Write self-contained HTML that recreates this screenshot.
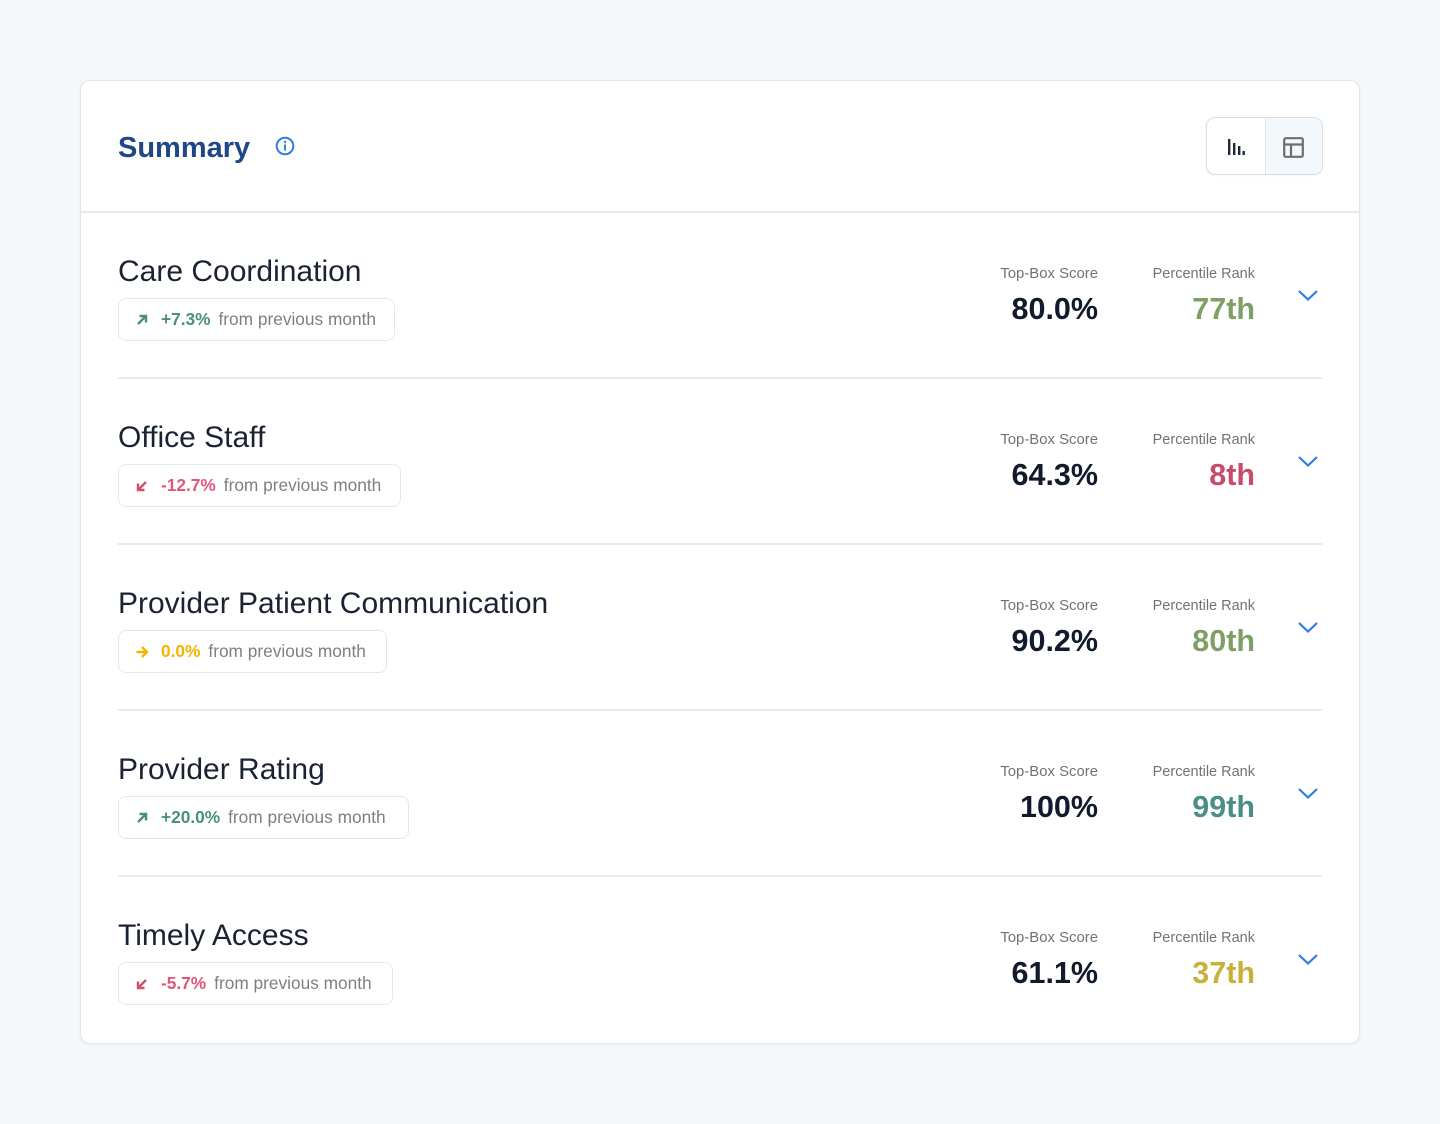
<!DOCTYPE html>
<html><head><meta charset="utf-8">
<style>
*{margin:0;padding:0;box-sizing:border-box}
html,body{width:1440px;height:1124px;background:#f4f8fb;font-family:"Liberation Sans",Arial,sans-serif;overflow:hidden}
.card{position:absolute;left:80px;top:80px;width:1280px;height:964px;background:#fff;border:1px solid #e1e6eb;border-radius:10px;box-shadow:0 1px 3px rgba(20,40,70,0.05)}
.hdiv{position:absolute;left:80px;top:211px;width:1280px;height:2px;background:#e6ebf0}
.summary{position:absolute;left:118px;top:130px;font-size:29px;font-weight:bold;color:#1f4788;line-height:36px}
.info{position:absolute;left:275px;top:136px}
.toggle{position:absolute;left:1206px;top:117px;width:117px;height:58px;border:1px solid #d9dee3;border-radius:9px;overflow:hidden;background:#fff;box-shadow:0 1px 2px rgba(0,0,0,0.04)}
.toggle .r{position:absolute;left:58px;top:0;width:59px;height:58px;background:#f3f8fc;border-left:1px solid #dde2e7}
.title{position:absolute;left:118px;font-size:30px;color:#1a2233;line-height:34px;white-space:nowrap}
.badge{position:absolute;left:118px;height:43px;border:1.5px solid #e3e8ed;border-radius:8px;background:#fff}
.badge svg{position:absolute;left:16px;top:13.5px}
.badge .t{position:absolute;left:42px;top:0;line-height:41px;font-size:17.3px;white-space:nowrap;color:#7d7f83}
.badge .t b{font-weight:bold;margin-right:8px}
.lab{position:absolute;font-size:14.5px;color:#6f7378;text-align:right;white-space:nowrap;line-height:18px}
.lab.tb{font-size:14.9px}
.val{position:absolute;font-size:30.5px;font-weight:bold;text-align:right;white-space:nowrap;line-height:36px;color:#111b2c}
.chev{position:absolute;left:1297px}
.rdiv{position:absolute;left:118px;width:1204px;height:2px;background:#e8ecf0}
</style></head><body>
<div class="card"></div>
<div class="hdiv"></div>
<div class="summary">Summary</div>
<svg class="info" width="20" height="20" viewBox="0 0 20 20"><circle cx="10" cy="10" r="8.3" fill="none" stroke="#2f7fe0" stroke-width="2"/><rect x="9" y="8.5" width="2" height="6" fill="#2f7fe0"/><circle cx="10" cy="6" r="1.2" fill="#2f7fe0"/></svg>
<div class="toggle"><div class="r"></div>
<svg style="position:absolute;left:20px;top:21px" width="18" height="17" viewBox="0 0 18 17"><rect x="1" y="0" width="2.4" height="16" fill="#1e293b"/><rect x="6" y="4" width="2.4" height="12" fill="#1e293b"/><rect x="11" y="7" width="2.4" height="9" fill="#1e293b"/><rect x="15.5" y="12" width="2.4" height="4" fill="#1e293b"/></svg>
<svg style="position:absolute;left:76px;top:19px" width="21" height="21" viewBox="0 0 21 21"><rect x="1.2" y="1.2" width="18.6" height="18.6" rx="1.5" fill="none" stroke="#6e6e6e" stroke-width="2.2"/><line x1="1.2" y1="7.5" x2="19.8" y2="7.5" stroke="#6e6e6e" stroke-width="2.2"/><line x1="8" y1="7.5" x2="8" y2="19.8" stroke="#6e6e6e" stroke-width="2.2"/></svg>
</div>

<!-- Row 1 -->
<div class="title" style="top:255px">Care Coordination</div>
<div class="badge" style="top:298px;width:277px"><svg width="14" height="14" viewBox="0 0 14 14"><path d="M3 11 L11 3 M4.5 3 H11 V9.5" fill="none" stroke="#4a8f80" stroke-width="2.4"/></svg><div class="t"><b style="color:#4a8f80">+7.3%</b>from previous month</div></div>
<div class="lab tb" style="right:342px;top:265px">Top-Box Score</div>
<div class="val" style="right:342px;top:291px">80.0%</div>
<div class="lab" style="right:185px;top:265px">Percentile Rank</div>
<div class="val" style="right:185px;top:291px;color:#7ea064">77th</div>
<svg class="chev" style="top:289px" width="22" height="13" viewBox="0 0 22 13"><path d="M2 2 L11 10.5 L20 2" fill="none" stroke="#2f7de1" stroke-width="2.2"/></svg>
<div class="rdiv" style="top:377px"></div>

<!-- Row 2 -->
<div class="title" style="top:421px">Office Staff</div>
<div class="badge" style="top:464px;width:283px"><svg width="14" height="14" viewBox="0 0 14 14"><path d="M11 3 L3 11 M3 4.5 V11 H9.5" fill="none" stroke="#d4506f" stroke-width="2.4"/></svg><div class="t"><b style="color:#e0557a">-12.7%</b>from previous month</div></div>
<div class="lab tb" style="right:342px;top:431px">Top-Box Score</div>
<div class="val" style="right:342px;top:457px">64.3%</div>
<div class="lab" style="right:185px;top:431px">Percentile Rank</div>
<div class="val" style="right:185px;top:457px;color:#c94a6a">8th</div>
<svg class="chev" style="top:455px" width="22" height="13" viewBox="0 0 22 13"><path d="M2 2 L11 10.5 L20 2" fill="none" stroke="#2f7de1" stroke-width="2.2"/></svg>
<div class="rdiv" style="top:543px"></div>

<!-- Row 3 -->
<div class="title" style="top:587px">Provider Patient Communication</div>
<div class="badge" style="top:630px;width:269px"><svg width="14" height="14" viewBox="0 0 14 14"><path d="M1.5 7 H12 M7 2 L12 7 L7 12" fill="none" stroke="#f5b400" stroke-width="2.4"/></svg><div class="t"><b style="color:#f5b400">0.0%</b>from previous month</div></div>
<div class="lab tb" style="right:342px;top:597px">Top-Box Score</div>
<div class="val" style="right:342px;top:623px">90.2%</div>
<div class="lab" style="right:185px;top:597px">Percentile Rank</div>
<div class="val" style="right:185px;top:623px;color:#7ea064">80th</div>
<svg class="chev" style="top:621px" width="22" height="13" viewBox="0 0 22 13"><path d="M2 2 L11 10.5 L20 2" fill="none" stroke="#2f7de1" stroke-width="2.2"/></svg>
<div class="rdiv" style="top:709px"></div>

<!-- Row 4 -->
<div class="title" style="top:753px">Provider Rating</div>
<div class="badge" style="top:796px;width:291px"><svg width="14" height="14" viewBox="0 0 14 14"><path d="M3 11 L11 3 M4.5 3 H11 V9.5" fill="none" stroke="#4a8f80" stroke-width="2.4"/></svg><div class="t"><b style="color:#4a8f80">+20.0%</b>from previous month</div></div>
<div class="lab tb" style="right:342px;top:763px">Top-Box Score</div>
<div class="val" style="right:342px;top:789px">100%</div>
<div class="lab" style="right:185px;top:763px">Percentile Rank</div>
<div class="val" style="right:185px;top:789px;color:#4a8f86">99th</div>
<svg class="chev" style="top:787px" width="22" height="13" viewBox="0 0 22 13"><path d="M2 2 L11 10.5 L20 2" fill="none" stroke="#2f7de1" stroke-width="2.2"/></svg>
<div class="rdiv" style="top:875px"></div>

<!-- Row 5 -->
<div class="title" style="top:919px">Timely Access</div>
<div class="badge" style="top:962px;width:275px"><svg width="14" height="14" viewBox="0 0 14 14"><path d="M11 3 L3 11 M3 4.5 V11 H9.5" fill="none" stroke="#d4506f" stroke-width="2.4"/></svg><div class="t"><b style="color:#e0557a">-5.7%</b>from previous month</div></div>
<div class="lab tb" style="right:342px;top:929px">Top-Box Score</div>
<div class="val" style="right:342px;top:955px">61.1%</div>
<div class="lab" style="right:185px;top:929px">Percentile Rank</div>
<div class="val" style="right:185px;top:955px;color:#c9b03a">37th</div>
<svg class="chev" style="top:953px" width="22" height="13" viewBox="0 0 22 13"><path d="M2 2 L11 10.5 L20 2" fill="none" stroke="#2f7de1" stroke-width="2.2"/></svg>
</body></html>
